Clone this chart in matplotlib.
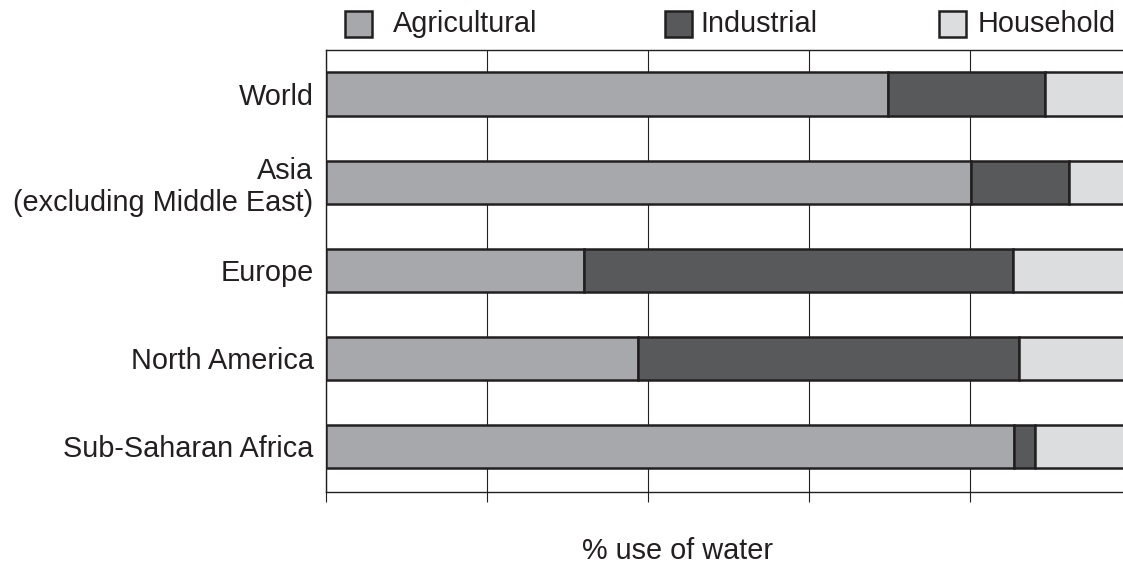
import matplotlib
matplotlib.use("Agg")
import matplotlib.pyplot as plt
from matplotlib.patches import Rectangle
import numpy as np

plt.rcParams['font.family'] = ['Liberation Sans', 'DejaVu Sans']

regions = ["World", "Asia\n(excluding Middle East)", "Europe", "North America", "Sub-Saharan Africa"]
agricultural = [69.8, 80.1, 32.0, 38.8, 85.5]
industrial = [19.5, 12.2, 53.3, 47.3, 2.6]
household = [10.7, 7.7, 14.7, 13.9, 11.9]
series_names = ["Agricultural", "Industrial", "Household"]
colors = ["#a7a8ab", "#58595b", "#dcdddf"]
edge = "#231f20"

fig = plt.figure(figsize=(11.23, 5.69), dpi=100)
ax = fig.add_axes([326/1123, 1-492/569, (1131-326)/1123, (492-50)/569])

y = np.arange(len(regions))
left = np.zeros(len(regions))
for vals, col in zip([agricultural, industrial, household], colors):
    ax.barh(y, vals, left=left, height=0.49, color=col, edgecolor=edge,
            linewidth=1.8, zorder=3)
    left += np.array(vals)

ax.set_xlim(0, 100)
ax.set_ylim(4.52, -0.5)
ax.set_xticks(np.arange(0, 101, 20))
ax.set_xticklabels([])
ax.tick_params(axis='x', length=7.2, width=0.8, color=edge, direction='out')
ax.set_yticks(y)
ax.set_yticklabels(regions, fontsize=20.8, color=edge, multialignment='right')
ax.tick_params(axis='y', length=0, pad=9)
ax.grid(axis='x', color=edge, linewidth=0.8, zorder=0)
for s in ax.spines.values():
    s.set_color(edge)
    s.set_linewidth(1.0)

fig.text(678/1123, 1-551/569, "% use of water", ha='center', va='center',
         fontsize=20.8, color=edge)

# legend
sq_x = [345, 665, 939]
tx_x = [393, 700, 978]
for sx, tx, name, col in zip(sq_x, tx_x, series_names, colors):
    fig.patches.append(Rectangle((sx/1123, 1-37/569), 27/1123, 26/569,
                                 transform=fig.transFigure, facecolor=col,
                                 edgecolor=edge, linewidth=1.8))
    fig.text(tx/1123, 1-24/569, name, ha='left', va='center', fontsize=20.8,
             color=edge)

fig.savefig("out.png", dpi=100)
